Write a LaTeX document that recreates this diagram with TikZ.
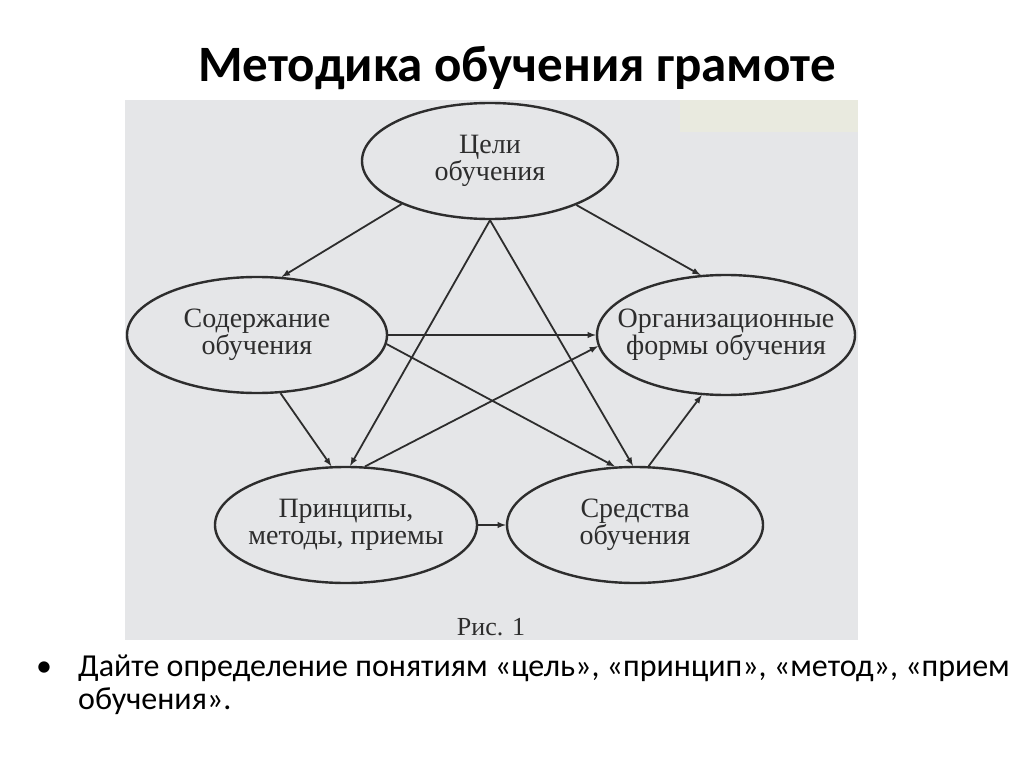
\documentclass[tikz,border=0pt]{standalone}
\usepackage{fontspec}
\setmainfont{Liberation Serif}
\newfontfamily\slidefont{Carlito}
\usetikzlibrary{shapes.geometric, arrows}
\definecolor{scangray}{RGB}{229,230,232}
\definecolor{scanyellow}{RGB}{233,234,223}
\definecolor{inkgray}{RGB}{45,45,45}
\tikzstyle{stage} = [ellipse, draw=inkgray, line width=2.4pt, minimum width=258pt, minimum height=116pt, inner xsep=-40pt, inner ysep=0pt, align=center, text=inkgray, font=\fontsize{28}{27}\selectfont]
\tikzstyle{caption} = [inner sep=0pt, text=inkgray, font=\fontsize{26}{28}\selectfont]
\tikzstyle{slidetext} = [inner sep=0pt, anchor=base west, font=\slidefont\fontsize{32}{34}\selectfont]
\tikzstyle{arrow} = [draw=inkgray, line width=1.8pt, ->, >=latex]

\begin{document}
\begin{tikzpicture}[x=1pt, y=-1pt]
      \useasboundingbox (0,0) rectangle (1024,767);
      \fill [white] (0,0) rectangle (1024,767);
      % scanned figure
      \fill [scangray] (125,100) rectangle (858,640);
      \fill [scanyellow] (680,100) rectangle (858,132);

      \node (title) [inner sep=0pt, font=\slidefont\bfseries\fontsize{51}{56}\selectfont] at (517,68) {Методика обучения грамоте};

      \node (goal) [stage, minimum width=256pt] at (490,161) {Цели\\обучения};
      \node (content) [stage, minimum width=260pt] at (257,335) {Содержание\\обучения};
      \node (org) [stage, minimum height=120pt] at (726,335) {Организационные\\формы обучения};
      \node (princ) [stage, minimum width=262pt] at (346,525) {Принципы,\\методы, приемы};
      \node (means) [stage, minimum width=256pt] at (635,525) {Средства\\обучения};
      \node (fig) [caption] at (491,627) {Рис. 1};

      \draw [arrow] (goal.206) -- (content.67);
      \draw [arrow] (goal.333) -- (org.113);
      \draw [arrow] (goal.south) -- (princ.86);
      \draw [arrow] (goal.south) -- (means.92);

      \draw [arrow] (content.east) -- (org.west);
      \draw [arrow] (content.356) -- (means.109);
      \draw [arrow] (content.292) -- (princ.104);

      \draw [arrow] (princ.72) -- (org.185);
      \draw [arrow] (means.77) -- (org.248);
      \draw [arrow] (princ.east) -- (means.west);

      % question below the figure
      \node (dot) [slidetext] at (36,676) {•};
      \node (task1) [slidetext] at (78,676) {Дайте определение понятиям «цель», «принцип», «метод», «прием};
      \node (task2) [slidetext] at (78,709) {обучения».};
\end{tikzpicture}
\end{document}
